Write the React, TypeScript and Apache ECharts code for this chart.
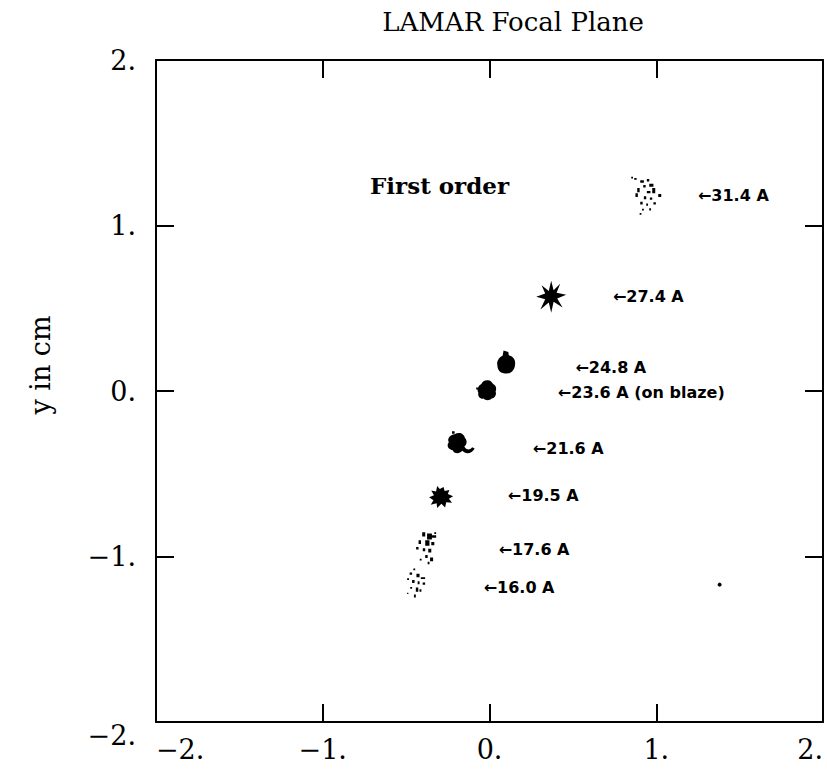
import React, { useEffect, useRef } from "react";
import * as echarts from "echarts";

// ---- data ----
const wavelengths = ["31.4", "27.4", "24.8", "23.6", "21.6", "19.5", "17.6", "16.0"];
const spotX = [0.94, 0.37, 0.1, -0.02, -0.17, -0.29, -0.38, -0.44];
const spotY = [1.18, 0.57, 0.175, 0.005, -0.31, -0.64, -0.95, -1.16];
const labelX = [1.25, 0.74, 0.515, 0.41, 0.26, 0.11, 0.055, -0.035];
const labelY = [1.18, 0.57, 0.145, -0.01, -0.345, -0.63, -0.96, -1.19];
const labelNotes = ["", "", "", " (on blaze)", "", "", "", ""];
const strayX = [1.38];
const strayY = [-1.17];
const axisTicks = [-2, -1, 0, 1, 2];

// ---- styles (symbol shapes) ----
const SPECK1 =
  "path://M10,6h8v6h-8z M30,14h12v8h-12z M52,10h8v8h-8z M60,26h14v10h-14z M40,30h8v8h-8z M70,40h10v18h-10z M52,50h12v8h-12z M20,40h8v14h-8z M14,58h8v12h-8z M42,68h8v10h-8z M62,72h8v8h-8z M30,86h8v10h-8z M50,92h6v8h-6z M74,88h8v8h-8z M36,110h6v6h-6z M60,108h6v8h-6z M0,2h6v6h-6z M90,60h10v10h-10z M28,124h6v6h-6z";
const STAR =
  "path://M50,0 L58,30 L80,10 L68,38 L100,44 L70,56 L88,84 L58,66 L50,100 L42,68 L14,90 L30,58 L0,50 L30,40 L18,14 L42,32 Z";
const DROP =
  "path://M40,0 L60,6 L62,20 C80,24 92,40 88,60 C86,82 70,98 50,96 C30,98 14,84 14,62 C10,44 22,28 36,22 Z";
const BLOB =
  "path://M50,8 C64,6 74,16 80,26 C92,30 96,46 90,58 C96,70 86,86 72,88 C62,98 42,96 34,88 C18,90 6,76 10,62 C2,48 10,30 24,24 C30,12 40,8 50,8 Z M0,40h8v8h-8z";
const BLOB2 =
  "path://M30,10 C44,0 60,8 62,22 C70,30 68,44 60,50 C66,62 78,62 84,52 L92,56 C84,74 64,76 54,64 C44,76 28,74 24,62 C10,60 4,46 12,36 C6,24 16,12 30,10 Z M22,0h8v8h-8z";
const JAG =
  "path://M30,0 L40,12 L54,4 L58,20 L76,16 L70,32 L90,40 L74,50 L86,66 L64,64 L60,84 L46,70 L30,86 L28,68 L6,74 L16,56 L0,44 L18,36 L8,18 L26,22 Z";
const SPECK2 =
  "path://M20,4h10v14h-10z M36,8h16v20h-16z M52,14h14v8h-14z M8,30h8v12h-8z M30,30h14v18h-14z M50,36h10v10h-10z M0,52h8v8h-8z M22,56h8v10h-8z M40,58h10v12h-10z M30,78h8v10h-8z M46,86h10v12h-10z M60,4h6v6h-6z M12,90h6v6h-6z M38,100h6v8h-6z";
const SPECK3 =
  "path://M20,0h6v6h-6z M8,14h8v8h-8z M30,18h10v12h-10z M44,30h14v6h-14z M0,34h6v6h-6z M16,40h8v10h-8z M34,44h6v10h-6z M50,48h8v8h-8z M10,64h6v6h-6z M28,66h8v14h-8z M40,72h6v8h-6z M0,84h4v4h-4z M22,90h6v10h-6z";
const SPOT_SHAPES = [SPECK1, STAR, DROP, BLOB, BLOB2, JAG, SPECK2, SPECK3];
const SPOT_SIZES = [
  [30, 38],
  [30, 32],
  [18, 23],
  [20, 20],
  [27, 22],
  [24, 22],
  [20, 32],
  [18, 29],
];

const SERIF = "DejaVu Serif";
const fmt = (v: number) => (v < 0 ? "\u2212" : "") + Math.abs(v) + ".";

export default function App() {
  const ref = useRef<HTMLDivElement>(null);
  useEffect(() => {
    if (!ref.current) return;
    const chart = echarts.init(ref.current, null, { renderer: "svg" });
    const axisCommon = {
      type: "value" as const,
      min: axisTicks[0],
      max: axisTicks[axisTicks.length - 1],
      interval: 1,
      splitLine: { show: false },
      axisLine: { show: true, onZero: false, lineStyle: { color: "#000", width: 2 } },
      axisTick: { show: true, inside: true, length: 18, lineStyle: { color: "#000", width: 2 } },
    };
    chart.setOption({
      animation: false,
      backgroundColor: "#fff",
      grid: {
        left: 156,
        right: 4,
        top: 60,
        bottom: 58,
        containLabel: false,
        outerBoundsMode: "none",
      },
      xAxis: [
        {
          ...axisCommon,
          position: "bottom",
          axisLabel: {
            formatter: fmt,
            color: "#000",
            fontFamily: SERIF,
            fontSize: 27,
            margin: 14,
            showMinLabel: true,
            showMaxLabel: true,
            hideOverlap: false,
            alignMinLabel: "left",
            alignMaxLabel: "right",
          },
        },
        { ...axisCommon, position: "top", axisLabel: { show: false } },
      ],
      yAxis: [
        {
          ...axisCommon,
          position: "left",
          axisLabel: {
            formatter: fmt,
            color: "#000",
            fontFamily: SERIF,
            fontSize: 27,
            margin: 20,
            verticalAlignMinLabel: "top",
          },
        },
        { ...axisCommon, position: "right", axisLabel: { show: false } },
      ],
      graphic: [
        {
          type: "text",
          x: 513,
          y: 22,
          style: {
            text: "LAMAR Focal Plane",
            font: `26px "${SERIF}"`,
            fill: "#000",
            textAlign: "center",
            textVerticalAlign: "middle",
          },
        },
        {
          type: "text",
          x: 40,
          y: 365,
          rotation: Math.PI / 2,
          style: {
            text: "y in cm",
            font: `27px "${SERIF}"`,
            fill: "#000",
            textAlign: "center",
            textVerticalAlign: "middle",
          },
        },
        {
          type: "text",
          x: 370,
          y: 185,
          style: {
            text: "First order",
            font: `bold 23px "${SERIF}"`,
            fill: "#000",
            textAlign: "left",
            textVerticalAlign: "middle",
          },
        },
      ],
      series: [
        {
          type: "scatter",
          xAxisIndex: 0,
          yAxisIndex: 0,
          data: spotX.map((x, i) => ({
            value: [x, spotY[i]],
            name: wavelengths[i],
            symbol: SPOT_SHAPES[i],
            symbolSize: SPOT_SIZES[i],
          })),
          itemStyle: { color: "#000", opacity: 1 },
          emphasis: { disabled: true },
        },
        {
          type: "scatter",
          data: strayX.map((x, i) => [x, strayY[i]]),
          symbol: "circle",
          symbolSize: 4,
          itemStyle: { color: "#000", opacity: 1 },
        },
        {
          type: "scatter",
          data: labelX.map((x, i) => ({
            value: [x, labelY[i]],
            name: "\u2190" + wavelengths[i] + " A" + labelNotes[i],
          })),
          symbolSize: 0,
          itemStyle: { color: "#000", opacity: 1 },
          emphasis: { disabled: true },
          label: {
            show: true,
            position: "right",
            distance: 0,
            formatter: (p: any) => p.name,
            color: "#000",
            opacity: 1,
            fontFamily: "DejaVu Sans",
            fontWeight: "bold",
            fontSize: 16,
          },
        },
      ],
    });
    return () => chart.dispose();
  }, []);
  return (
    <div
      ref={ref}
      style={{ position: "absolute", left: 0, top: 0, width: 827, height: 780 }}
    />
  );
}
